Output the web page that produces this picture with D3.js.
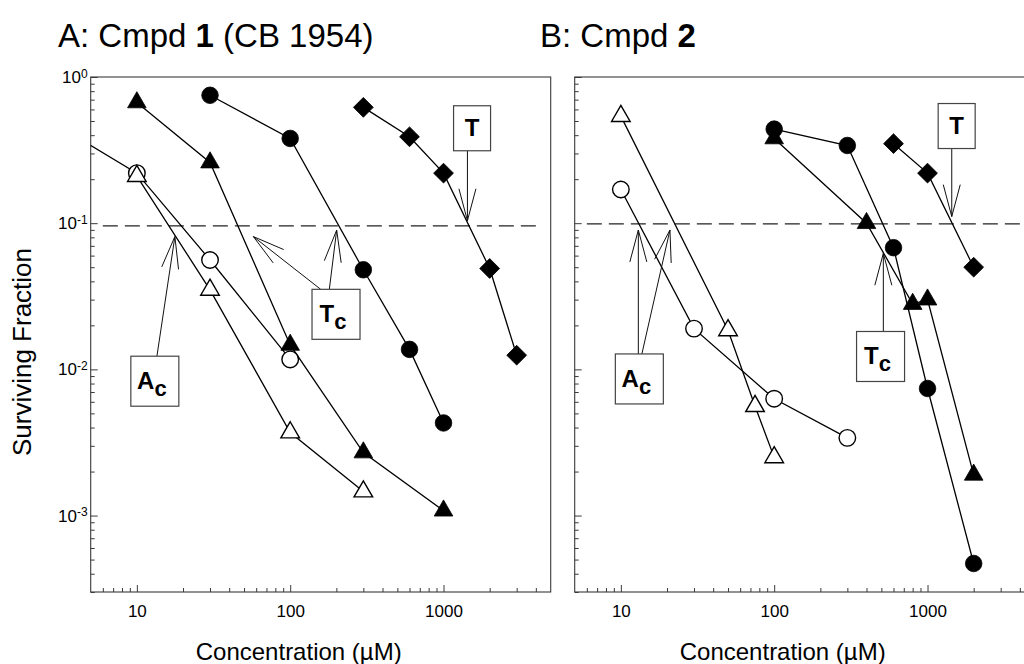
<!DOCTYPE html>
<html>
<head>
<meta charset="utf-8">
<script src="https://cdn.jsdelivr.net/npm/d3@7"></script>
<style>
  body { margin: 0; background: #fff; }
  svg { display: block; font-family: "Liberation Sans", Arial, sans-serif; }
</style>
</head>
<body>
<script>
// ---- data (concentration in uM, surviving fraction) ----
// Panel A: Cmpd 1 (CB 1954)
const aOpenCircleConc = [3, 10, 30, 100];
const aOpenCircleFrac = [0.47, 0.22, 0.056, 0.0117];
const aOpenTriConc = [10, 30, 100, 300];
const aOpenTriFrac = [0.21, 0.035, 0.0037, 0.00146];
const aFillTriConc = [10, 30, 100, 300, 1000];
const aFillTriFrac = [0.67, 0.26, 0.0147, 0.0027, 0.00108];
const aFillCircleConc = [30, 100, 300, 600, 1000];
const aFillCircleFrac = [0.75, 0.38, 0.048, 0.0137, 0.0043];
const aDiamondConc = [300, 600, 1000, 2000, 3000];
const aDiamondFrac = [0.62, 0.39, 0.22, 0.049, 0.0125];

// Panel B: Cmpd 2
const bOpenCircleConc = [10, 30, 100, 300];
const bOpenCircleFrac = [0.17, 0.019, 0.0063, 0.0034];
const bOpenTriConc = [10, 50, 75, 100];
const bOpenTriFrac = [0.54, 0.0185, 0.0056, 0.0025];
const bFillCircleConc = [100, 300, 600, 1000, 2000];
const bFillCircleFrac = [0.44, 0.34, 0.068, 0.0074, 0.00047];
const bFillTriConc = [100, 400, 800, 1000, 2000];
const bFillTriFrac = [0.38, 0.10, 0.028, 0.030, 0.0019];
const bDiamondConc = [600, 1000, 2000];
const bDiamondFrac = [0.35, 0.22, 0.05];

// 10% survival reference lines
const aCutoff = 0.096;
const bCutoff = 0.099;

// axis ticks
const xMajor = [10, 100, 1000];
const yMajor = [1, 0.1, 0.01, 0.001];
const yExponents = ["0", "-1", "-2", "-3"];

// annotation boxes: [label, subscript, conc, frac] and arrows [fromConc, fromFrac, toConc, toFrac]
const aBoxes = [["T", "", 1535, 0.446], ["T", "c", 199, 0.0238], ["A", "c", 13.1, 0.0083]];
const aArrows = [[1432, 0.313, 1432, 0.104], [180, 0.0353, 201, 0.0897], [158, 0.0353, 57.5, 0.081], [13.5, 0.0122, 17.7, 0.081]];
const bBoxes = [["T", "", 1549, 0.462], ["T", "c", 494, 0.01225], ["A", "c", 13.2, 0.0086]];
const bArrows = [[1439, 0.325, 1439, 0.111], [515, 0.0183, 515, 0.0622], [13.0, 0.0127, 13.0, 0.0898], [13.7, 0.0127, 20.9, 0.0898]];

const W = 1024, H = 664;
const svg = d3.select("body").append("svg").attr("width", W).attr("height", H);

const plotTop = 77, plotBottom = 592;
const y = d3.scaleLog().domain([3e-4, 1]).range([plotBottom, plotTop]);

function buildPanel(opts) {
  const x = d3.scaleLog().domain([5, 5000]).range([opts.left, opts.left + 460]);
  const g = svg.append("g");
  const clipId = "clip" + opts.id;
  svg.append("clipPath").attr("id", clipId)
    .append("rect").attr("x", opts.left).attr("y", plotTop)
    .attr("width", 460).attr("height", plotBottom - plotTop);

  // frame
  g.append("rect")
    .attr("x", opts.left).attr("y", plotTop)
    .attr("width", 460).attr("height", plotBottom - plotTop)
    .attr("fill", "none").attr("stroke", "#3a3a3a").attr("stroke-width", 1.1);

  // x axis, ticks pointing inward
  const xTicks = [];
  [1, 10, 100, 1000].forEach(d => d3.range(1, 10).forEach(k => {
    const v = d * k;
    if (v > 5 && v < 5000) xTicks.push(v);
  }));
  g.append("g")
    .attr("transform", `translate(0,${plotBottom})`)
    .call(d3.axisBottom(x).tickValues(xTicks).tickSizeInner(-7).tickSizeOuter(0).tickPadding(13)
      .tickFormat(d => xMajor.includes(d) ? d : ""))
    .call(ax => ax.select(".domain").remove())
    .call(ax => ax.selectAll(".tick line")
      .attr("y2", d => xMajor.includes(d) ? -7 : -4)
      .attr("stroke", "#3a3a3a"))
    .call(ax => ax.selectAll(".tick text")
      .attr("font-size", 17).attr("fill", "#000")
      .attr("font-family", "Liberation Sans, Arial, sans-serif"));

  // y axis, ticks pointing inward
  const yTicks = [];
  [1e-4, 1e-3, 1e-2, 1e-1].forEach(d => d3.range(1, 10).forEach(k => {
    const v = d * k;
    if (v >= 3e-4 * 0.999 && v < 1) yTicks.push(v);
  }));
  yMajor.forEach(v => { if (!yTicks.includes(v)) yTicks.push(v); });
  const isMajor = v => yMajor.some(m => Math.abs(v / m - 1) < 1e-6);
  const yAx = g.append("g")
    .attr("transform", `translate(${opts.left},0)`)
    .call(d3.axisLeft(y).tickValues(yTicks).tickSizeInner(-7).tickSizeOuter(0).tickPadding(3)
      .tickFormat(""))
    .call(ax => ax.select(".domain").remove())
    .call(ax => ax.selectAll(".tick line")
      .attr("x2", d => isMajor(d) ? 7 : 4)
      .attr("stroke", "#3a3a3a"));
  if (opts.yLabels) {
    yAx.selectAll(".tick text")
      .filter(d => isMajor(d))
      .attr("font-size", 17).attr("fill", "#000")
      .attr("font-family", "Liberation Sans, Arial, sans-serif")
      .each(function(d) {
        const t = d3.select(this);
        const i = yMajor.findIndex(m => Math.abs(d / m - 1) < 1e-6);
        t.text(null);
        t.append("tspan").text("10");
        t.append("tspan").attr("dy", "-0.42em").attr("font-size", 12).text(yExponents[i]);
      });
  }

  // reference line
  g.append("line")
    .attr("x1", x(6)).attr("x2", x(opts.cutoffEnd))
    .attr("y1", y(opts.cutoff)).attr("y2", y(opts.cutoff))
    .attr("stroke", "#222").attr("stroke-width", 1.2)
    .attr("stroke-dasharray", "15,7");

  // series
  const line = d3.line().x(d => x(d[0])).y(d => y(d[1]));
  const plot = g.append("g").attr("clip-path", `url(#${clipId})`);
  opts.series.forEach(s => {
    const pts = s.conc.map((c, i) => [c, s.frac[i]]);
    plot.append("path").datum(pts)
      .attr("d", line).attr("fill", "none")
      .attr("stroke", "#000").attr("stroke-width", 1.3);
  });
  const symbols = {
    circle: d3.symbol(d3.symbolCircle, 215),
    tri: d3.symbol(d3.symbolTriangle, 150),
    diamond: d3.symbol(d3.symbolSquare, 196)
  };
  opts.series.forEach(s => {
    const pts = s.conc.map((c, i) => [c, s.frac[i]]);
    plot.append("g").selectAll("path")
      .data(pts)
      .join("path")
        .attr("d", symbols[s.shape])
        .attr("transform", d => `translate(${x(d[0])},${y(d[1])})` + (s.shape === "diamond" ? " rotate(45)" : ""))
        .attr("fill", s.open ? "#fff" : "#000")
        .attr("stroke", "#000").attr("stroke-width", s.open ? 1.4 : 0.8);
  });

  // arrows (open V heads)
  const arrows = g.append("g").attr("stroke", "#111").attr("stroke-width", 1).attr("fill", "none");
  opts.arrows.forEach(a => {
    const x0 = x(a[0]), y0 = y(a[1]), x1 = x(a[2]), y1 = y(a[3]);
    const ang = Math.atan2(y0 - y1, x0 - x1);
    const len = 33, spread = 0.26;
    arrows.append("line").attr("x1", x0).attr("y1", y0).attr("x2", x1).attr("y2", y1);
    [-spread, spread].forEach(s => {
      arrows.append("line")
        .attr("x1", x1).attr("y1", y1)
        .attr("x2", x1 + len * Math.cos(ang + s))
        .attr("y2", y1 + len * Math.sin(ang + s));
    });
  });

  // label boxes
  opts.boxes.forEach(b => {
    const cx = x(b[2]), cy = y(b[3]);
    const bw = b[1] ? 48 : 37, bh = b[1] ? 50 : 45;
    g.append("rect")
      .attr("x", cx - bw / 2).attr("y", cy - bh / 2)
      .attr("width", bw).attr("height", bh)
      .attr("fill", "#fff").attr("stroke", "#444").attr("stroke-width", 1.2);
    const t = g.append("text")
      .attr("x", b[1] ? cx - 3 : cx).attr("y", cy + 8)
      .attr("text-anchor", "middle")
      .attr("font-weight", "bold").attr("font-size", 24);
    t.append("tspan").text(b[0]);
    if (b[1]) t.append("tspan").attr("dy", 7).attr("font-size", 22).text(b[1]);
  });

  // x axis title
  svg.append("text")
    .attr("x", opts.left + 208).attr("y", 660)
    .attr("text-anchor", "middle").attr("font-size", 24)
    .text("Concentration (\u00b5M)");

  // panel title
  const title = svg.append("text")
    .attr("x", opts.titleX).attr("y", 47)
    .attr("font-size", 33);
  title.append("tspan").text(opts.titlePre);
  title.append("tspan").attr("font-weight", "bold").text(opts.titleBold);
  if (opts.titlePost) title.append("tspan").text(opts.titlePost);
}

buildPanel({
  id: "A", left: 90.7, yLabels: true, cutoff: aCutoff, cutoffEnd: 4000,
  titleX: 58, titlePre: "A: Cmpd ", titleBold: "1", titlePost: " (CB 1954)",
  series: [
    { conc: aOpenCircleConc, frac: aOpenCircleFrac, shape: "circle", open: true },
    { conc: aOpenTriConc, frac: aOpenTriFrac, shape: "tri", open: true },
    { conc: aFillTriConc, frac: aFillTriFrac, shape: "tri", open: false },
    { conc: aFillCircleConc, frac: aFillCircleFrac, shape: "circle", open: false },
    { conc: aDiamondConc, frac: aDiamondFrac, shape: "diamond", open: false }
  ],
  arrows: aArrows, boxes: aBoxes
});

buildPanel({
  id: "B", left: 574.7, yLabels: false, cutoff: bCutoff, cutoffEnd: 5000,
  titleX: 540, titlePre: "B: Cmpd ", titleBold: "2", titlePost: "",
  series: [
    { conc: bOpenCircleConc, frac: bOpenCircleFrac, shape: "circle", open: true },
    { conc: bOpenTriConc, frac: bOpenTriFrac, shape: "tri", open: true },
    { conc: bFillCircleConc, frac: bFillCircleFrac, shape: "circle", open: false },
    { conc: bFillTriConc, frac: bFillTriFrac, shape: "tri", open: false },
    { conc: bDiamondConc, frac: bDiamondFrac, shape: "diamond", open: false }
  ],
  arrows: bArrows, boxes: bBoxes
});

// y axis title
svg.append("text")
  .attr("transform", "translate(31,352) rotate(-90)")
  .attr("text-anchor", "middle").attr("font-size", 26)
  .text("Surviving Fraction");
</script>
</body>
</html>
